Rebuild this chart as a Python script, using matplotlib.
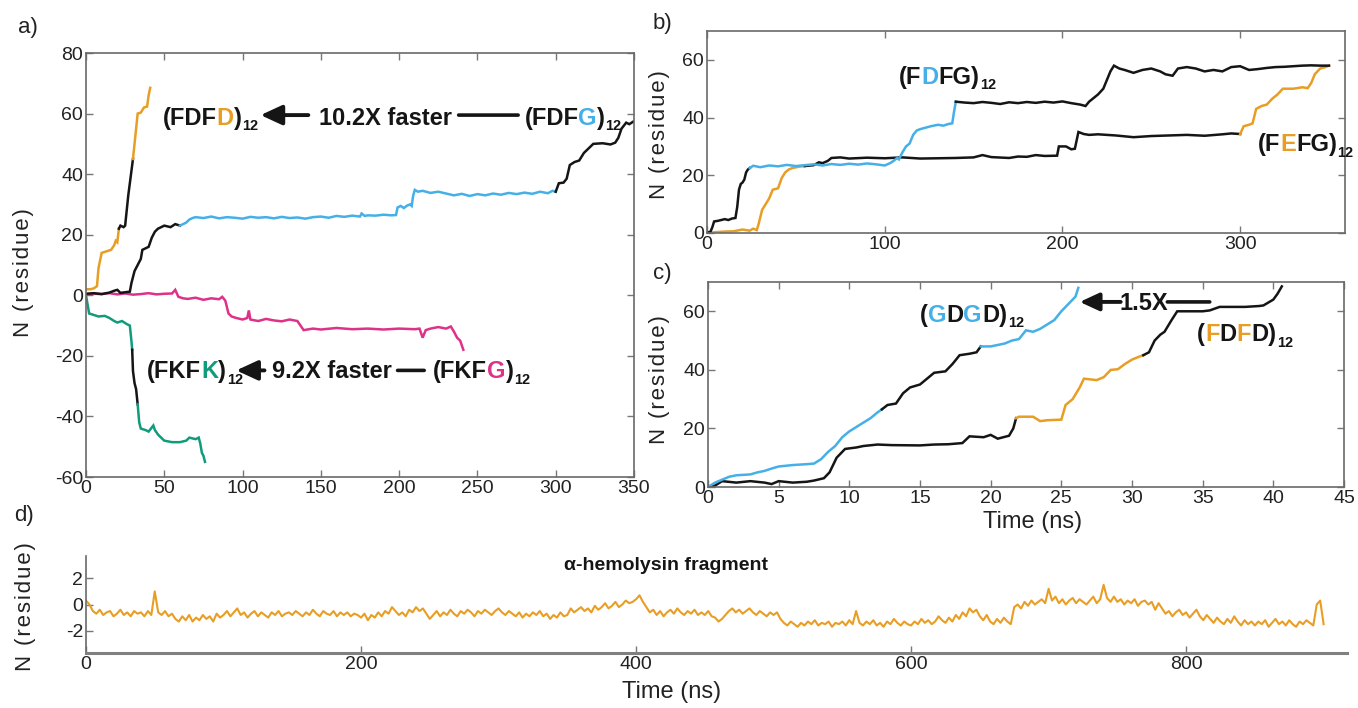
import numpy as np
import matplotlib
matplotlib.use("Agg")
import matplotlib.pyplot as plt

plt.rcParams["axes.unicode_minus"] = False

# ---------------- data ----------------
# Panel a
a_fdfd_orange1 = [(0,2),(3,2),(5,2.3),(7,3),(8,9),(10,14),(13,14.5),(16,15),(18,16.5),(19,18),(20,17.5),(21,22)]
a_fdfd_black = [(21,22),(22,23),(24,22.5),(25,23),(26,28),(27,33),(28,37),(29,41),(30,45)]
a_fdfd_orange2 = [(30,45),(31,50),(32,55),(33,60),(35,60.3),(37,62),(39,62.3),(40,66),(41,68.5)]

a_fdfg_black1 = [(0,0.5),(5,0.7),(10,0.4),(15,0.9),(18,1.5),(20,1.8),(22,0.8),(25,1.0),(28,1.2),(29,4),(31,8),
                 (33,10),(35,12),(36,15),(40,16),(42,19),(44,21),(46,22),(50,23),(54,22.5),(57,23.5),(60,23)]
a_fdfg_blue = [(60,23),(62,23.5),(64,24),(66,25),(68,25.5),(70,25.8),(75,25.5),(80,26),(85,25.4),(90,25.8),(95,25.6),
               (100,25.3),(105,25.9),(110,25.6),(115,25.8),(120,25.4),(125,25.9),(130,25.5),(135,25.7),(140,25.3),
               (145,25.8),(150,26),(155,25.6),(160,26.2),(165,25.9),(170,26.3),(175,26.0),(176,27),(178,26.2),
               (180,26.4),(185,26.3),(190,26.6),(195,26.4),(198,26.5),(199,29),(201,29.5),(203,28.8),(205,29.6),
               (207,30),(208,29.5),(209,33),(210,34.8),(212,34.2),(215,34.5),(220,33.8),(225,34.2),(230,33.6),
               (235,33),(240,33.5),(245,32.8),(250,33.4),(255,33.0),(260,33.6),(265,33.2),(270,33.8),(275,33.4),
               (280,33.9),(285,33.5),(290,34.2),(295,33.7),(298,34.5),(300,34.2)]
a_fdfg_black2 = [(300,34.2),(302,37),(305,37.2),(307,38.5),(309,43),(312,44),(315,44.5),(318,47),(321,48.5),
                 (324,50),(330,50.2),(335,49.8),(338,50.4),(340,52),(342,55),(345,57),(347,56.5),(350,57.5)]

a_fkfg_pink = [(0,0.3),(5,0.5),(10,0.4),(15,0.7),(20,0.3),(25,0.6),(30,0.2),(35,0.4),(40,0.7),(45,0.3),(50,0.5),
               (55,0.6),(57,1.8),(59,-0.5),(62,-1),(65,-1.2),(70,-0.8),(75,-1.5),(80,-1),(85,-1.3),(87,-0.5),
               (89,-1.8),(91,-6),(93,-7),(96,-7.5),(100,-8),(103,-7.5),(104,-5),(105,-8),(110,-8.5),(115,-7.8),
               (120,-8.3),(125,-8.6),(130,-8),(135,-8.5),(137,-10),(139,-11.5),(145,-11),(150,-11.3),(160,-10.8),
               (170,-11.2),(180,-11),(190,-11.3),(200,-11),(210,-11.2),(213,-11),(215,-14),(217,-11.5),(220,-11),
               (225,-10.5),(230,-11),(233,-10.3),(235,-12),(237,-14),(239,-15),(241,-18)]

a_fkfk_green1 = [(0,0),(1,-3),(2,-6),(5,-6.5),(8,-7),(12,-6.8),(15,-7.5),(18,-8.5),(20,-9),(23,-8.5),(26,-9.5),
                 (28,-10),(29,-15),(29.5,-18)]
a_fkfk_black = [(29.5,-18),(30,-25),(31,-29),(32,-31),(33,-36)]
a_fkfk_green2 = [(33,-36),(34,-42),(35,-44),(38,-44.5),(40,-45),(43,-43),(44,-44.5),(46,-46),(48,-47),(50,-48),
                 (55,-48.5),(60,-48.5),(64,-48),(66,-47),(70,-47.5),(72,-47),(73,-49),(74,-52),(75,-53),(76,-55)]

# Panel b
b_up_black1 = [(0,0),(2,0.5),(3,2),(4,4),(6,4.2),(8,4.5),(10,4.8),(12,4.5),(14,5),(16,5.2),(17,9),(18,15),
               (19,17),(20,17.5),(21,18.5),(22,21),(23,22),(24,22.5)]
b_up_blue = [(24,22.5),(26,23.3),(30,22.8),(35,23.4),(40,23.1),(45,23.6),(50,23.2),(55,23.5),(60,23.8),(65,23.4),
             (70,23.9),(75,23.6),(80,24.0),(85,23.7),(90,24.1),(95,23.8),(100,23.4),(103,24.2),(105,25),(107,26),
             (108,25.5),(110,28),(112,30),(114,31),(116,34),(118,35.5),(120,36),(123,36.5),(126,37),(130,37.5),
             (133,37.2),(136,37.8),(138,38),(139,42),(140,45.5)]
b_up_black2 = [(140,45.5),(145,45.2),(150,45.0),(155,45.4),(160,45.1),(165,44.7),(170,45.3),(175,45.0),(180,45.4),
               (185,45.1),(190,45.5),(195,45.2),(200,45.6),(205,45.0),(210,44.5),(213,44.0),(215,45.5),(218,47),
               (220,48),(223,50),(225,53),(227,56),(229,58),(232,57),(235,56.5),(240,55.5),(245,56.5),(250,57),
               (255,56),(258,55),(262,54.5),(265,57),(270,57.5),(275,57),(280,56),(285,56.5),(290,56),(295,57.5),
               (300,57.8),(305,56.5),(310,56.8),(315,57.2),(320,57.5),(325,57.6),(330,57.8),(335,58),(340,58.1),
               (345,58),(350,58)]
b_lo_orange1 = [(0,0),(5,0.3),(10,0.5),(15,0.6),(20,1.2),(24,0.8),(26,1.5),(28,1),(29,3),(31,8),(33,10),(35,12),
                (37,15),(40,15.5),(42,19),(44,21),(46,22),(48,22.5),(52,23),(55,23.2)]
b_lo_black = [(55,23.2),(60,23.5),(63,24.5),(65,24.2),(68,25),(70,26),(75,26.2),(80,25.8),(90,26.1),(100,25.9),
              (110,26.2),(120,25.8),(130,25.9),(140,26.0),(150,26.2),(155,27),(160,26.3),(170,26),(175,26.5),
              (180,26.4),(185,27),(190,26.7),(197,26.8),(198,30),(202,30),(205,29),(207,29.2),(209,35),(212,34.3),
              (215,34),(220,34.2),(230,33.8),(240,33.2),(250,33.6),(260,33.8),(270,34),(280,33.7),(290,34.2),
              (295,34.5),(300,34.3)]
b_lo_orange2 = [(300,34.3),(302,37),(305,37.5),(307,38),(309,43),(312,44),(315,44.5),(318,46.5),(321,48),(324,50),
                (330,50),(335,50.5),(338,50.2),(340,52),(342,55),(345,57),(348,57.5),(350,58)]

# Panel c
c_gdgd_blue1 = [(0,0),(0.5,1.5),(1,2.5),(1.5,3.5),(2,4),(3,4.3),(3.5,5),(4,5.5),(4.5,6.3),(5,7),(6,7.5),(7,7.8),
                (7.5,8),(8,9.5),(8.5,12),(9,14),(9.5,17),(10,19),(10.5,20.5),(11,22),(11.5,23.5),(12,25.5),(12.3,26.5)]
c_gdgd_black = [(12.3,26.5),(12.7,28),(13.3,28.5),(13.8,32),(14.3,34),(15,35),(15.5,37),(16,39),(16.8,39.5),
                (17.3,42),(17.8,45),(18.5,45.5),(19,46),(19.3,48)]
c_gdgd_blue2 = [(19.3,48),(20,48),(21,49),(21.5,50),(22,50.5),(22.5,53.5),(23,53),(23.5,54),(24,55.5),(24.5,57),
                (25,60),(25.5,62.5),(26,65),(26.2,68)]
c_fdfd_black1 = [(0,0),(0.5,0.5),(1,2),(2,1.5),(3,2),(4,1.5),(4.5,1),(5,2),(6,1.5),(7,1.8),(7.5,2.2),(8.2,3),
                 (8.6,5),(9.1,10),(9.7,13),(10.5,13.5),(11,14),(12,14.5),(13,14.3),(15,14.2),(16,14.5),(17,14.6),
                 (18,15),(18.5,17.3),(19.5,17),(20,17.8),(20.5,16.5),(21.3,17.5),(21.6,20),(21.8,23.5)]
c_fdfd_orange = [(21.8,23.5),(22,24),(23,24),(23.5,22.5),(24,22.8),(25,23),(25.3,28),(25.8,30),(26.3,34),
                 (26.6,37),(27.5,36.5),(28,37.5),(28.5,40),(29,40.2),(29.5,42),(30,43.5),(30.5,44.5),(30.8,45)]
c_fdfd_black2 = [(30.8,45),(31.2,46),(31.6,50),(32,52),(32.3,53),(32.8,57),(33.2,60),(34,60),(35,60),(35.5,60.3),
                 (36.2,61.5),(37,61.5),(38,61.5),(39,61.8),(39.3,62),(40,64),(40.3,66),(40.6,68.5)]

# Panel d (alpha-hemolysin fragment), one value every 2.5 ns from 0 to 900
d_step = 2.5
d_values = [
    0.3, 0.0, -0.5, -0.7, -0.4, -0.8, -0.6, -0.5, -0.9, -0.7, -0.4, -0.8, -0.6, -0.9, -0.5, -0.7, -0.6, -0.9, -0.5, -0.8,
    1.0, -0.6, -0.8, -0.5, -0.9, -0.7, -1.1, -1.3, -0.9, -1.2, -0.8, -1.3, -1.0, -1.2, -0.8, -1.1, -0.9, -1.3, -0.7, -1.0,
    -0.8, -0.5, -0.9, -0.6, -0.3, -0.8, -0.6, -1.0, -0.7, -0.5, -0.9, -0.6, -0.8, -1.0, -0.6, -0.8, -0.5, -0.9, -0.7, -0.6,
    -0.8, -0.5, -0.7, -0.9, -0.6, -0.8, -0.4, -0.7, -0.9, -0.5, -0.7, -0.8, -0.5, -0.9, -0.6, -0.8, -0.6, -0.9, -0.7, -0.8,
    -1.0, -0.7, -1.2, -0.8, -1.0, -0.6, -0.9, -0.5, -0.7, -0.2, -0.5, -0.8, -0.6, -0.9, -0.4, -0.6, -0.2, -0.5, -0.3, -0.7,
    -1.1, -0.8, -0.5, -0.9, -0.6, -0.8, -0.4, -0.7, -0.9, -0.5, -0.7, -0.4, -0.6, -0.9, -0.5, -0.7, -0.4, -0.6, -0.8, -0.5,
    -0.3, -0.6, -0.8, -0.5, -0.7, -0.9, -0.6, -1.0, -0.7, -0.9, -0.6, -0.8, -0.5, -0.9, -0.7, -1.1, -0.8, -1.0, -0.6, -0.9,
    -0.8, -0.3, -0.6, -0.4, -0.2, -0.5, -0.3, -0.6, -0.1, -0.4, -0.2, 0.1, -0.3, -0.1, 0.2, -0.2, 0.0, 0.3, 0.1, 0.2,
    0.4, 0.7, 0.2, -0.2, -0.6, -0.4, -0.8, -0.5, -0.9, -0.6, -0.4, -0.7, -0.3, -0.6, -0.8, -0.5, -0.7, -0.4, -0.8, -0.6,
    -0.8, -0.5, -0.9, -1.0, -1.3, -1.1, -0.8, -0.5, -0.3, -0.6, -0.4, -0.7, -0.5, -0.3, -0.6, -0.8, -0.5, -0.7, -0.9, -0.6,
    -0.8, -0.6, -1.1, -1.4, -1.6, -1.3, -1.5, -1.7, -1.4, -1.6, -1.3, -1.5, -1.2, -1.6, -1.4, -1.5, -1.3, -1.7, -1.4, -1.5,
    -1.3, -1.6, -1.2, -1.5, -0.5, -1.4, -1.6, -1.3, -1.5, -1.2, -1.6, -1.4, -1.7, -1.3, -1.5, -1.1, -1.4, -1.6, -1.3, -1.5,
    -1.6, -1.3, -1.5, -1.1, -1.4, -1.2, -1.5, -1.3, -0.9, -1.2, -1.4, -1.0, -1.3, -0.8, -1.1, -0.6, -0.9, -0.3, -0.6, -0.4,
    -0.9, -1.2, -0.8, -1.3, -1.5, -1.1, -1.4, -1.0, -1.3, -1.5, -0.2, 0.0, -0.3, 0.2, -0.1, 0.3, 0.0, 0.2, 0.4, 0.1,
    1.2, 0.3, 0.6, 0.1, 0.4, 0.0, 0.3, 0.5, 0.1, 0.4, 0.2, 0.0, 0.3, 0.6, 0.1, 0.4, 1.5, 0.5, 0.2, 0.6,
    0.2, 0.4, 0.0, 0.3, 0.1, 0.4, -0.1, 0.2, 0.3, 0.0, 0.2, -0.4, 0.1, -0.3, -0.7, -0.5, -0.9, -0.6, -0.4, -0.8,
    -0.6, -1.0, -0.7, -0.4, -0.9, -1.2, -0.8, -1.1, -1.4, -1.0, -1.3, -1.5, -1.1, -1.4, -0.9, -1.3, -1.6, -1.2, -1.5, -1.3,
    -1.6, -1.3, -1.5, -1.2, -1.7, -1.4, -1.1, -1.5, -1.3, -1.6, -1.2, -1.5, -1.7, -1.3, -1.5, -1.2, -1.4, -1.6, 0.0, 0.3,
    -1.5]
d_times = np.arange(len(d_values)) * d_step

# ---------------- style ----------------
ORANGE = "#E89E24"
BLUE = "#45B0E8"
GREEN = "#109C7C"
PINK = "#DE3188"
BLACK = "#151515"
LW = 1.8
SANS = ["Liberation Sans", "DejaVu Sans"]
NARROW = ["Liberation Sans Narrow", "Liberation Sans", "DejaVu Sans"]
HS = "\u200a"

W, H = 1358, 708
fig = plt.figure(figsize=(W / 100, H / 100), dpi=100)


def box(l, t, r, b):
    return [l / W, 1 - b / H, (r - l) / W, (b - t) / H]


def style(ax, full=True):
    for s in ax.spines.values():
        s.set_color("#6a6a6a")
        s.set_linewidth(1.2)
    ax.tick_params(direction="in", top=full, right=full, length=5, width=1,
                   color="#777777", labelcolor="#222222", labelsize=14, pad=2)
    for lab in ax.get_xticklabels() + ax.get_yticklabels():
        lab.set_family(SANS)


def seg(ax, pts, color):
    x, y = zip(*pts)
    ax.plot(x, y, color=color, lw=LW, solid_joinstyle="miter")


def rich(ax, x, y, parts, size=17):
    fp = dict(family=NARROW, weight="bold")
    s, c = parts[0]
    t = ax.text(x, y, s, color=c, fontsize=size, va="center", ha="left", **fp)
    for s, c in parts[1:]:
        if s == "12":
            t = ax.annotate(s, xy=(1, 0), xycoords=t, xytext=(0.5, -2.5), textcoords="offset points",
                            va="bottom", ha="left", color=c, fontsize=size * 0.62, **fp)
        else:
            t = ax.annotate(s, xy=(1, 0), xycoords=t, va="bottom", ha="left", color=c, fontsize=size, **fp)
    return t


def arrow(ax, tip, tail, y, ms=20):
    ax.annotate("", xy=(tip, y), xytext=(tail, y),
                arrowprops=dict(arrowstyle="-|>,head_length=0.65,head_width=0.3", lw=2.8,
                                color=BLACK, shrinkA=0, shrinkB=0, mutation_scale=ms))


def hline(ax, x0, x1, y):
    ax.annotate("", xy=(x1, y), xytext=(x0, y),
                arrowprops=dict(arrowstyle="-", lw=2.6, color=BLACK, shrinkA=0, shrinkB=0))


# ---------------- panel a ----------------
axa = fig.add_axes(box(86, 53, 634, 477))
for pts, c in [(a_fkfg_pink, PINK), (a_fkfk_green1, GREEN), (a_fkfk_black, BLACK), (a_fkfk_green2, GREEN),
               (a_fdfg_black1, BLACK), (a_fdfg_blue, BLUE), (a_fdfg_black2, BLACK),
               (a_fdfd_orange1, ORANGE), (a_fdfd_black, BLACK), (a_fdfd_orange2, ORANGE)]:
    seg(axa, pts, c)
axa.set_xlim(0, 350)
axa.set_ylim(-60, 80)
axa.set_xticks(range(0, 351, 50))
axa.set_yticks(range(-60, 81, 20))
style(axa)
rich(axa, 49, 58.5, [("(FDF", BLACK), ("D", ORANGE), (")", BLACK), ("12", BLACK)])
arrow(axa, 111.5, 142, 59.5)
axa.text(149, 58.5, "10.2X faster", fontsize=17, va="center", ha="left", family=NARROW, weight="bold", color=BLACK)
hline(axa, 238, 276, 59.5)
rich(axa, 280, 58.5, [("(FDF", BLACK), ("G", BLUE), (")", BLACK), ("12", BLACK)])
rich(axa, 39, -25.2, [("(FKF", BLACK), ("K", GREEN), (")", BLACK), ("12", BLACK)])
arrow(axa, 96, 114, -24.8)
axa.text(118.5, -25.2, "9.2X faster", fontsize=17, va="center", ha="left", family=NARROW, weight="bold", color=BLACK)
hline(axa, 199, 216, -24.8)
rich(axa, 221.7, -25.2, [("(FKF", BLACK), ("G", PINK), (")", BLACK), ("12", BLACK)])

# ---------------- panel b ----------------
axb = fig.add_axes(box(707, 31, 1345, 233))
for pts, c in [(b_lo_orange1, ORANGE), (b_lo_black, BLACK), (b_lo_orange2, ORANGE),
               (b_up_black1, BLACK), (b_up_blue, BLUE), (b_up_black2, BLACK)]:
    seg(axb, pts, c)
axb.set_xlim(0, 359)
axb.set_ylim(0, 70)
axb.set_xticks([0, 100, 200, 300])
axb.set_yticks([0, 20, 40, 60])
style(axb)
rich(axb, 108, 54, [("(F", BLACK), ("D", BLUE), ("FG)", BLACK), ("12", BLACK)])
rich(axb, 310, 30.5, [("(F", BLACK), ("E", ORANGE), ("FG)", BLACK), ("12", BLACK)])

# ---------------- panel c ----------------
axc = fig.add_axes(box(708, 282, 1344, 487))
for pts, c in [(c_fdfd_black1, BLACK), (c_fdfd_orange, ORANGE), (c_fdfd_black2, BLACK),
               (c_gdgd_blue1, BLUE), (c_gdgd_black, BLACK), (c_gdgd_blue2, BLUE)]:
    seg(axc, pts, c)
axc.set_xlim(0, 45)
axc.set_ylim(0, 70)
axc.set_xticks(range(0, 46, 5))
axc.set_yticks([0, 20, 40, 60])
style(axc)
rich(axc, 15.0, 58.7, [("(", BLACK), ("G", BLUE), ("D", BLACK), ("G", BLUE), ("D)", BLACK), ("12", BLACK)])
arrow(axc, 26.3, 29.2, 63.2, ms=18)
axc.text(29.1, 62.8, "1.5X", fontsize=17, va="center", ha="left", family=NARROW, weight="bold", color=BLACK)
hline(axc, 32.5, 35.5, 63.2)
rich(axc, 34.6, 52, [("(", BLACK), ("F", ORANGE), ("D", BLACK), ("F", ORANGE), ("D)", BLACK), ("12", BLACK)])

# ---------------- panel d ----------------
axd = fig.add_axes(box(86, 556, 1347, 653))
axd.plot(d_times, d_values, color=ORANGE, lw=1.5)
axd.set_xlim(0, 917)
axd.set_ylim(-3.7, 3.7)
axd.set_xticks([0, 200, 400, 600, 800])
axd.set_yticks([-2, 0, 2])
style(axd, full=False)
axd.spines["top"].set_visible(False)
axd.spines["right"].set_visible(False)
axd.spines["bottom"].set_linewidth(2.2)
axd.spines["bottom"].set_color("#808080")
for lab in axd.get_xticklabels() + axd.get_yticklabels():
    lab.set_family(NARROW)
axd.text(422, 3.0, "\u03b1-hemolysin fragment", fontsize=14, va="center", ha="center",
         family=NARROW, weight="bold", color=BLACK)

# ---------------- labels ----------------
ylab = HS.join("N (residue)")
for (x, y) in [(24, 273), (660, 135), (660, 380), (26, 607)]:
    fig.text(x / W, 1 - y / H, ylab, rotation=90, fontsize=16, family=SANS, ha="center", va="center", color="#222222")
for (x, y) in [(1033, 522), (672, 692)]:
    fig.text(x / W, 1 - y / H, "Time (ns)", fontsize=17, family=SANS, ha="center", va="center", color="#222222")
for s, (x, y) in [("a)", (28, 28)), ("b)", (662, 24)), ("c)", (662, 274)), ("d)", (24, 515))]:
    fig.text(x / W, 1 - y / H, s, fontsize=16, family=SANS, ha="center", va="center", color="#222222")

fig.savefig("out.png", dpi=100)
